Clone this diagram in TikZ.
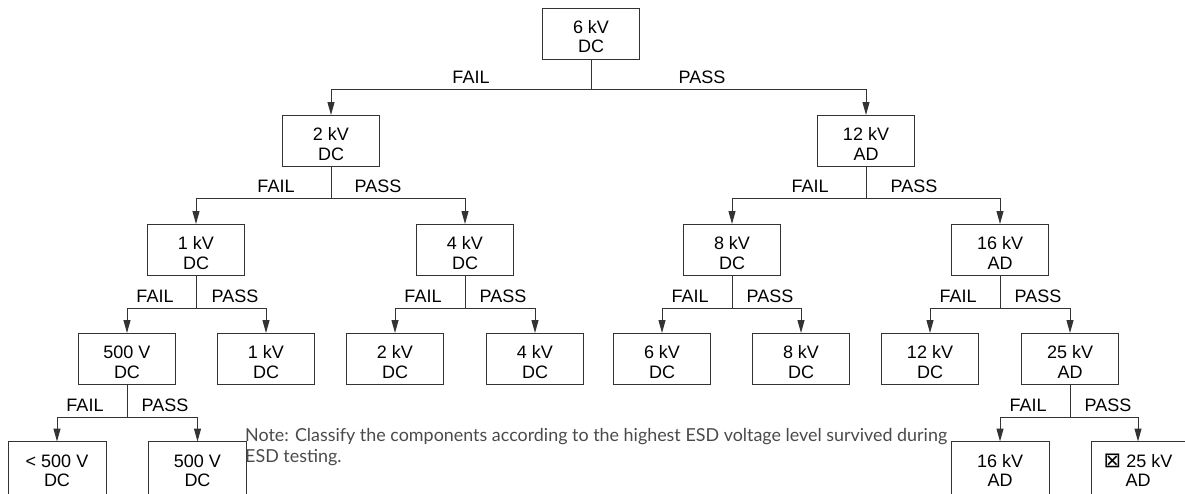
\documentclass[tikz,border=0pt]{standalone}
\usepackage{fontspec}
\setmainfont{Liberation Sans}
\newfontfamily\notefont{Lato}
\newfontfamily\symfont{DejaVu Sans}
\usetikzlibrary{arrows.meta}
\definecolor{ln}{HTML}{333333}
\definecolor{nt}{HTML}{4A4A4A}
\newcommand\twol[2]{\rule{0pt}{19pt}#1\\#2}
\tikzset{
  box/.style={draw=ln, line width=1pt, minimum width=97pt, minimum height=51pt,
    inner sep=0pt, align=center, font=\fontsize{18}{19.5}\selectfont},
  openbox/.style={box, draw=none},
  lab/.style={anchor=base, inner sep=0pt, font=\fontsize{18}{19.5}\selectfont},
  wire/.style={draw=ln, line width=1pt},
  arr/.style={wire, -{Triangle[length=13pt,width=7pt]}},
  notestyle/.style={anchor=base west, inner sep=0pt, text=nt, font=\notefont\fontsize{17.9}{21}\selectfont},
}
\begin{document}
\begin{tikzpicture}[x=1pt,y=-1pt]
\useasboundingbox (0,0) rectangle (1185,493);
% level 0
\node[box] (n0) at (591,33.5) {\twol{6 kV}{DC}};
% level 1
\node[box] (a1) at (331,141) {\twol{2 kV}{DC}};
\node[box] (a2) at (866,141) {\twol{12 kV}{AD}};
% level 2
\node[box] (b1) at (196,250) {\twol{1 kV}{DC}};
\node[box] (b2) at (465,250) {\twol{4 kV}{DC}};
\node[box] (b3) at (732,250) {\twol{8 kV}{DC}};
\node[box] (b4) at (1000,250) {\twol{16 kV}{AD}};
% level 3
\node[box] (c1) at (127,359) {\twol{500 V}{DC}};
\node[box] (c2) at (266,359) {\twol{1 kV}{DC}};
\node[box] (c3) at (395,359) {\twol{2 kV}{DC}};
\node[box] (c4) at (535,359) {\twol{4 kV}{DC}};
\node[box] (c5) at (662,359) {\twol{6 kV}{DC}};
\node[box] (c6) at (801,359) {\twol{8 kV}{DC}};
\node[box] (c7) at (930,359) {\twol{12 kV}{DC}};
\node[box] (c8) at (1070,359) {\twol{25 kV}{AD}};
% level 4 (cut by the lower edge)
\node[openbox] (d1) at (57,467.5) {\twol{< 500 V}{DC}};
\node[openbox] (d2) at (197.5,467.5) {\twol{500 V}{DC}};
\node[openbox] (d3) at (1000,467.5) {\twol{16 kV}{AD}};
\node[openbox, minimum width=93pt] (d4) at (1138,467.5) {\twol{{\symfont\fontsize{21}{21}\selectfont\raisebox{-0.5pt}{⊠}} 25 kV}{AD}};
\foreach \n in {d1,d2,d3,d4}
  \draw[wire] (\n.south west) |- (\n.north east) -- (\n.south east);
% junction coordinates
\coordinate (j0) at (591,89);
\coordinate (ja1) at (331,198);
\coordinate (ja2) at (866,198);
\coordinate (jb1) at (196,308);
\coordinate (jb2) at (465,308);
\coordinate (jb3) at (732,308);
\coordinate (jb4) at (1000,308);
\coordinate (jc1) at (127,417);
\coordinate (jc8) at (1070,417);
% connectors
\foreach \p/\j/\l/\r in {n0/j0/a1/a2, a1/ja1/b1/b2, a2/ja2/b3/b4,
    b1/jb1/c1/c2, b2/jb2/c3/c4, b3/jb3/c5/c6, b4/jb4/c7/c8,
    c1/jc1/d1/d2, c8/jc8/d3/d4}{
  \draw[wire] (\p.south) -- (\j);
  \draw[arr] (\j) -| (\l.north);
  \draw[arr] (\j) -| (\r.north);
}
% labels
\node[lab] (f0) at (471,83) {FAIL};
\node[lab] (p0) at (702,83) {PASS};
\node[lab] (fa1) at (276,192) {FAIL};
\node[lab] (pa1) at (378,192) {PASS};
\node[lab] (fa2) at (810,192) {FAIL};
\node[lab] (pa2) at (914,192) {PASS};
\node[lab] (fb1) at (155,302) {FAIL};
\node[lab] (pb1) at (235,302) {PASS};
\node[lab] (fb2) at (423,302) {FAIL};
\node[lab] (pb2) at (503,302) {PASS};
\node[lab] (fb3) at (690,302) {FAIL};
\node[lab] (pb3) at (770,302) {PASS};
\node[lab] (fb4) at (958,302) {FAIL};
\node[lab] (pb4) at (1038,302) {PASS};
\node[lab] (fc1) at (85,411) {FAIL};
\node[lab] (pc1) at (165,411) {PASS};
\node[lab] (fc8) at (1028,411) {FAIL};
\node[lab] (pc8) at (1108,411) {PASS};
% note
\node[notestyle] (note1) at (245,441)
  {Note: Classify the components according to the highest ESD voltage level survived during};
\node[notestyle] (note2) at (245,462) {ESD testing.};
\end{tikzpicture}
\end{document}
